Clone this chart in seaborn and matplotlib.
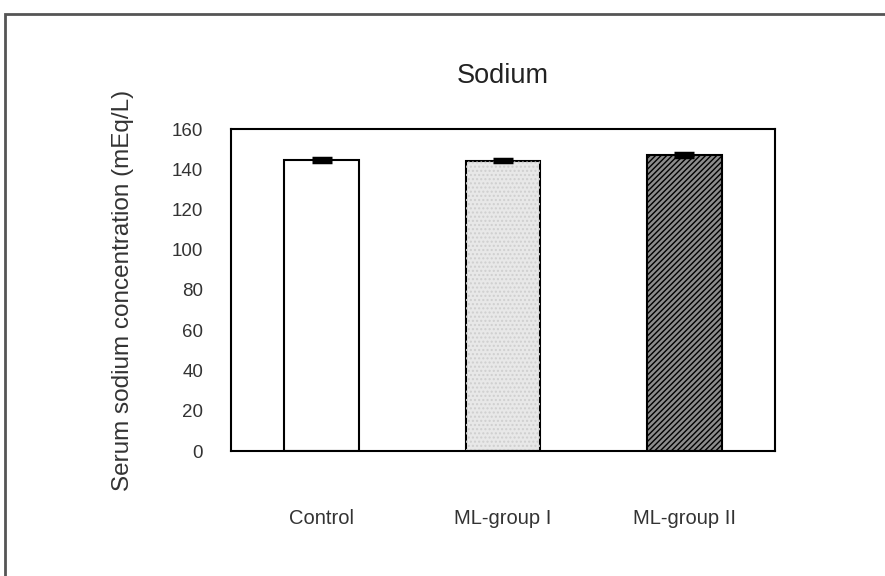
import matplotlib
matplotlib.use("Agg")
import matplotlib as mpl
import matplotlib.pyplot as plt
from matplotlib.patches import Rectangle
import seaborn as sns
import pandas as pd

categories = ["Control", "ML-group I", "ML-group II"]
means = [144.8, 144.3, 147.2]
errors = [1.0, 0.8, 1.0]
y_ticks = [0, 20, 40, 60, 80, 100, 120, 140, 160]

sns.set_theme(style="white")
plt.rcParams['font.family'] = ['Liberation Sans', 'DejaVu Sans']
mpl.rcParams['hatch.linewidth'] = 1.0

df = pd.DataFrame({"group": categories, "value": means})

fig = plt.figure(figsize=(8.85, 5.76), dpi=100)
ax = fig.add_axes([231/885, 1-451/576, (775-231)/885, (451-129)/576])

sns.barplot(data=df, x="group", y="value", ax=ax, width=0.41,
            errorbar=None, color="white", edgecolor="black", linewidth=1.5)

styles = [dict(fc="white", hatch=None),
          dict(fc="#e8e8e8", hatch=None),
          dict(fc="#8c8c8c", hatch="//////")]
for p, s in zip(ax.patches, styles):
    p.set_facecolor(s["fc"])
    if s["hatch"]:
        p.set_hatch(s["hatch"])
    p.set_edgecolor("black")

# light speckle on the gray bar
p2 = ax.patches[1]
speck = Rectangle(p2.get_xy(), p2.get_width(), p2.get_height(), fill=False,
                  hatch="....", edgecolor="#cfcfcf", linewidth=0)
ax.add_patch(speck)

ax.errorbar(range(len(categories)), means, yerr=errors, fmt="none",
            ecolor="black", elinewidth=3, capsize=7, capthick=2.5, zorder=5)

ax.set_ylim(0, 160)
ax.set_xlim(-0.5, 2.5)
ax.set_yticks(y_ticks)
ax.set_yticklabels([str(t) for t in y_ticks], fontsize=13.5, color="#333333")
ax.tick_params(axis="y", length=0, pad=20)
ax.tick_params(axis="x", length=0, pad=42, labelsize=14.5, labelcolor="#333333")
ax.set_xlabel("")
ax.set_ylabel("Serum sodium concentration (mEq/L)", fontsize=17.5,
              color="#333333", labelpad=27)
for sp in ax.spines.values():
    sp.set_visible(True)
    sp.set_color("black")
    sp.set_linewidth(1.5)
ax.set_title("Sodium", fontsize=19.5, color="#222222", pad=33)

# outer frame around the figure
fig.patches.append(Rectangle((5/885, -0.05), 1.1, 1 - 14/576 + 0.05,
                             transform=fig.transFigure, fill=False,
                             edgecolor="#555555", linewidth=2))

fig.savefig("out.png", dpi=100)
